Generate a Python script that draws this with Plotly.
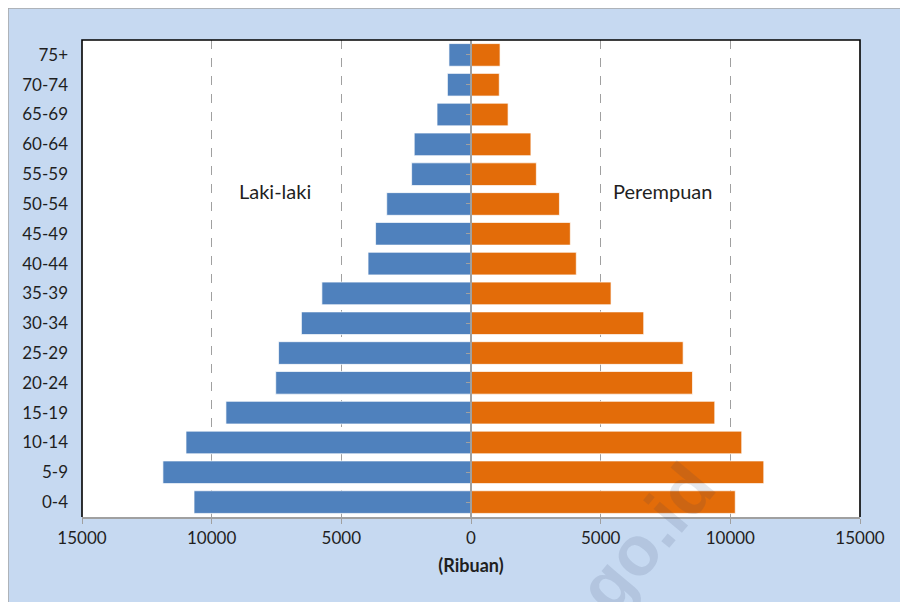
import plotly.graph_objects as go

age_groups = ["0-4", "5-9", "10-14", "15-19", "20-24", "25-29", "30-34", "35-39",
              "40-44", "45-49", "50-54", "55-59", "60-64", "65-69", "70-74", "75+"]
laki_laki = [10680, 11880, 10990, 9450, 7530, 7420, 6540, 5750,
             3970, 3680, 3250, 2290, 2190, 1310, 910, 850]
perempuan = [10190, 11290, 10440, 9400, 8540, 8180, 6660, 5400,
             4060, 3830, 3410, 2520, 2310, 1430, 1090, 1120]
tick_values = [-15000, -10000, -5000, 0, 5000, 10000, 15000]
tick_labels = ["15000", "10000", "5000", "0", "5000", "10000", "15000"]

BLUE = "#4f81bd"
ORANGE = "#e36c09"
FONT = "Lato"
TXT = "#1f1f1f"

fig = go.Figure()
fig.add_trace(go.Bar(y=age_groups, x=[-v for v in laki_laki], orientation="h",
                     marker=dict(color=BLUE, line=dict(color="rgba(255,255,255,0.7)", width=1)),
                     name="Laki-laki", yaxis="y"))
fig.add_trace(go.Bar(y=age_groups, x=perempuan, orientation="h",
                     marker=dict(color=ORANGE, line=dict(color="rgba(255,255,255,0.7)", width=1)),
                     name="Perempuan", yaxis="y2"))

# figure-space layout (page offset of 8px removed)
L, R, T, B = 74, 852, 32, 509
W, H = 908, 602
pw, ph = R - L, B - T

def px(x):
    return (x - L) / pw

def py(y):
    return (B - y) / ph

shapes = [
    dict(type="rect", xref="paper", yref="paper", layer="below",
         x0=px(0), x1=px(W + 10), y0=py(H + 10), y1=py(0),
         fillcolor="rgba(0,0,0,0)", line=dict(color="#a6a6a6", width=1.5)),
    dict(type="path", xref="paper", yref="paper", layer="above",
         path="M 0,0 L 0,1 L 1,1 L 1,0", line=dict(color="#000000", width=1.6)),
]

fig.update_layout(
    width=W, height=H,
    margin=dict(l=L, r=W - R, t=T, b=H - B),
    paper_bgcolor="#c6d9f1", plot_bgcolor="white",
    barmode="overlay", bargap=0.24,
    showlegend=False,
    font=dict(family=FONT, size=17, color=TXT),
    xaxis=dict(range=[-15000, 15000], tickvals=tick_values, ticktext=tick_labels,
               showgrid=True, gridcolor="#a0a0a0", griddash="dash", gridwidth=1,
               zeroline=False, showline=True, linecolor="#a0a0a0", linewidth=1.5,
               ticks="outside", ticklen=5, tickcolor="#a0a0a0", tickwidth=1,
               tickfont=dict(family=FONT, size=17, color=TXT),
               title=dict(text="<b>(Ribuan)</b>", font=dict(family=FONT, size=18, color=TXT),
                          standoff=12),
               fixedrange=True),
    yaxis=dict(categoryorder="array", categoryarray=age_groups, range=[-0.5, 15.5],
               showgrid=False, zeroline=False, showline=False, ticks="",
               ticklabelstandoff=13,
               tickfont=dict(family=FONT, size=17, color=TXT)),
    yaxis2=dict(categoryorder="array", categoryarray=age_groups, range=[-0.5, 15.5],
                overlaying="y", anchor="free", position=0.5, side="left",
                showgrid=False, zeroline=False, showline=True, linecolor="#a0a0a0",
                linewidth=1.5, ticks="outside", ticklen=4, tickcolor="#a0a0a0",
                showticklabels=False),
    shapes=shapes,
    annotations=[
        dict(text="Laki-laki", x=-7550, y=py(183), xref="x", yref="paper",
             xanchor="center", yanchor="middle",
             showarrow=False, font=dict(family=FONT, size=20, color=TXT)),
        dict(text="Perempuan", x=7400, y=py(183), xref="x", yref="paper",
             xanchor="center", yanchor="middle",
             showarrow=False, font=dict(family=FONT, size=20, color=TXT)),
        dict(text="<b>bps.go.id</b>", x=px(592), y=py(585), xref="paper", yref="paper",
             xanchor="center", yanchor="middle",
             showarrow=False, textangle=-50,
             font=dict(family="Liberation Sans", size=70, color="rgba(40,60,95,0.12)")),
    ],
)

fig.write_html("out.html")
